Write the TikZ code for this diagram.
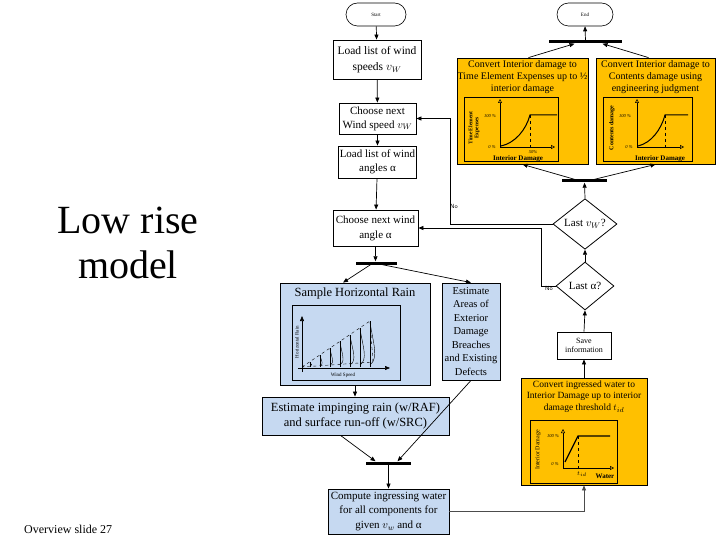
\documentclass[tikz,border=0pt]{standalone}
\usepackage{fontspec}
\setmainfont{Liberation Serif}
\usetikzlibrary{shapes.geometric,shapes.misc,arrows.meta,calc}
\definecolor{blueF}{RGB}{198,217,241}
\definecolor{orangeF}{RGB}{255,192,0}
\tikzset{
  box/.style={draw, line width=0.8pt, align=center, inner sep=1pt},
  wbox/.style={box, fill=white},
  bbox/.style={box, fill=blueF},
  obox/.style={box, fill=orangeF},
  bar/.style={fill=black, inner sep=0pt, minimum height=3pt},
  arr/.style={-{Triangle[length=5pt,width=4pt]}, line width=0.7pt},
  parr/.style={-{Triangle[open,length=4pt,width=4pt]}, line width=0.5pt},
  term/.style={draw, rounded rectangle, fill=white, inner sep=0pt, line width=0.6pt},
  dia/.style={draw, diamond, fill=white, inner sep=0pt, line width=0.8pt},
  tiny/.style={font=\fontsize{4.5}{5}\selectfont\itshape, inner sep=0pt},
  nolab/.style={font=\sffamily\fontsize{6}{7}\selectfont, inner sep=0pt},
}
\begin{document}
\begin{tikzpicture}[x=1pt,y=-1pt]
\useasboundingbox (0,0) rectangle (720,540);

% left texts
\node[align=center, font=\fontsize{40}{45}\selectfont] (title) at (128,243) {Low rise\\model};
\node[anchor=base west, inner sep=0pt, font=\fontsize{12}{14}\selectfont] (foot) at (24,533) {Overview slide 27};

% terminals
\node[term, minimum width=60, minimum height=23, font=\fontsize{5}{6}\selectfont] (start) at (376,14.5) {Start};
\node[term, minimum width=56, minimum height=23, font=\fontsize{5}{6}\selectfont] (end) at (585,14.5) {End};

% left column
\node[wbox, minimum width=88, minimum height=39, font=\fontsize{11.5}{16}\selectfont] (loadws) at (377,59.5) {Load list of wind\\speeds $v_W$};
\node[wbox, minimum width=77, minimum height=31, font=\fontsize{11}{14}\selectfont] (choosews) at (377.5,118.5) {Choose next\\Wind speed $v_W$};
\node[wbox, minimum width=77, minimum height=32, font=\fontsize{11}{14}\selectfont] (loadwa) at (377.5,162) {Load list of wind\\angles α};
\node[wbox, minimum width=85, minimum height=36, font=\fontsize{11}{15}\selectfont] (choosewa) at (375.5,228) {Choose next wind\\angle α};

\node[bar, minimum width=41] (bar1) at (376.5,263) {};

% sample horizontal rain
\node[bbox, minimum width=150, minimum height=102] (samp) at (355,334) {};
\node[anchor=north, inner sep=0pt, font=\fontsize{12.5}{14}\selectfont] (samptitle) at ([yshift=-5]samp.north) {Sample Horizontal Rain};
\draw[line width=0.4pt] (292,305) rectangle (400,380);
\draw[-{Triangle[length=5pt,width=4pt]}, line width=0.6pt] (302,372) -- (302,316);
\draw[-{Triangle[length=5pt,width=4pt]}, line width=0.6pt] (298,368) -- (390,368);
\draw[dashed, line width=0.4pt] (302,367) -- (370,321) -- (373,362) -- cycle;
\foreach \xx/\yy/\ww in {310/361.6/2, 320/354.8/2.5, 330/348/3, 340/341.3/3.5, 350/334.5/4.5, 360/327.8/5, 370/321/5.5}{
  \draw[line width=0.4pt] (\xx,367) -- (\xx,\yy);
  \draw[line width=0.4pt] (\xx,{\yy+1}) .. controls ({\xx+0.6*\ww},{\yy+0.5*(367-\yy)}) and ({\xx+1.6*\ww},{\yy+0.8*(367-\yy)}) .. (\xx,365);
}
\node[rotate=90, font=\fontsize{5}{6}\selectfont, inner sep=0pt] (hrlab) at (297,342) {Horizontal Rain};
\node[font=\fontsize{5}{6}\selectfont, inner sep=0pt] (wslab) at (343,375) {Wind Speed};

% estimate areas
\node[bbox, minimum width=58, minimum height=97, font=\fontsize{10.5}{13.5}\selectfont] (areas) at (471,331.5) {Estimate\\Areas of\\Exterior\\Damage\\Breaches\\and Existing\\Defects};

\node[bbox, minimum width=187, minimum height=38, font=\fontsize{12.5}{15.5}\selectfont] (imping) at (355.5,416) {Estimate impinging rain (w/RAF)\\and surface run-off (w/SRC)};

\node[bar, minimum width=45] (bar2) at (388.5,463) {};

\node[bbox, minimum width=121, minimum height=45, font=\fontsize{11}{14.5}\selectfont] (compute) at (388.5,511.5) {Compute ingressing water\\for all components for\\given $v_w$ and α};

% right column
\node[obox, minimum width=126, minimum height=107] (convwater) at (584,431.5) {};
\node[anchor=north, align=center, inner sep=0pt, font=\fontsize{9.5}{11.5}\selectfont] (cwtitle) at ([yshift=-3]convwater.north) {Convert ingressed water to\\Interior Damage up to interior\\damage threshold $t_{id}$};
\draw[line width=0.4pt] (530,420) rectangle (617,483);
\draw[parr] (563,468) -- (563,429);
\draw[parr] (563,468) -- (614,468);
\draw[line width=1.2pt] (565,462) -- (578,436) -- (610,436);
\draw[dashed, line width=0.4pt] (578,436) -- (578,468);
\node[tiny] (cw100) at (553,436) {100 \%};
\node[tiny] (cw0) at (555,464) {0 \%};
\node[inner sep=0pt, font=\fontsize{6}{7}\selectfont] (cwt) at (582,474) {$t_{id}$};
\node[inner sep=0pt, font=\fontsize{7}{8}\selectfont\bfseries] (cwwater) at (605,476) {Water};
\node[rotate=90, inner sep=0pt, font=\fontsize{6}{7}\selectfont] (cwid) at (538,450) {Interior Damage};

\node[wbox, minimum width=54, minimum height=27, font=\fontsize{8}{9.5}\selectfont] (save) at (584,345.5) {Save\\information};

\node[dia, minimum width=58, minimum height=48, font=\fontsize{11}{13}\selectfont] (lasta) at (585,286) {Last α?};
\node[dia, minimum width=64, minimum height=46, font=\fontsize{11}{13}\selectfont] (lastv) at (585,224) {Last $v_W$?};

\node[bar, minimum width=45] (barmid) at (584.5,181) {};

% top orange boxes
\node[obox, minimum width=131, minimum height=106] (conv1) at (522.5,111) {};
\node[anchor=north, align=center, inner sep=0pt, font=\fontsize{10}{12}\selectfont] (c1title) at ([yshift=-3]conv1.north) {Convert Interior damage to\\Time Element Expenses up to ½\\interior damage};
\draw[line width=0.4pt] (464,97) rectangle (558,161);
\draw[parr] (500,147) -- (500,99);
\draw[parr] (500,147) -- (555,147);
\draw[line width=1pt] (501,146) .. controls (515,143) and (526,130) .. (530,115) -- (557,115);
\draw[dashed, line width=0.4pt] (530,115) -- (530,147);
\node[tiny] (c1100) at (490,116) {100 \%};
\node[tiny] (c10) at (492,147) {0 \%};
\node[tiny] (c150) at (533,152) {50\%};
\node[inner sep=0pt, font=\fontsize{7}{8}\selectfont\bfseries] (c1lab) at (518,158.5) {Interior Damage};
\node[rotate=90, align=center, inner sep=0pt, font=\fontsize{5.5}{6}\selectfont\bfseries] (c1y) at (474,128) {Time Element\\Expenses};

\node[obox, minimum width=119, minimum height=106] (conv2) at (655.5,111) {};
\node[anchor=north, align=center, inner sep=0pt, font=\fontsize{10}{12}\selectfont] (c2title) at ([yshift=-3]conv2.north) {Convert Interior damage to\\Contents damage using\\engineering judgment};
\draw[line width=0.4pt] (603,97) rectangle (692,161);
\draw[parr] (637,147) -- (637,99);
\draw[parr] (637,147) -- (684,147);
\draw[line width=1pt] (638,146) .. controls (651,143) and (661,130) .. (665,115) -- (688,115);
\draw[dashed, line width=0.4pt] (665,115) -- (665,147);
\node[tiny] (c2100) at (625,116) {100 \%};
\node[tiny] (c20) at (629,147) {0 \%};
\node[inner sep=0pt, font=\fontsize{7}{8}\selectfont\bfseries] (c2lab) at (660,158.5) {Interior Damage};
\node[rotate=90, inner sep=0pt, font=\fontsize{6}{7}\selectfont\bfseries] (c2y) at (612,128) {Contents damage};

\node[bar, minimum width=73] (bartop) at (585.5,42) {};

% connectors
\draw[arr] (start) -- (loadws);
\draw[arr] (loadws) -- (choosews);
\draw[arr] (choosews) -- (loadwa);
\draw[arr] (loadwa) -- (choosewa);
\draw[arr] (choosewa.south) -- (bar1.north -| choosewa.south);
\draw[arr] ([xshift=-6]bar1.south) -- ([xshift=-12]samp.north);
\draw[arr] ([xshift=6]bar1.south) -- (areas.north);
\draw[arr] (samp.south) -- (samp.south |- imping.north);
\draw[arr] ([xshift=-15]imping.south) -- ([xshift=-13]bar2.north);
\draw[arr] (areas.south) -- ([xshift=9]bar2.north);
\draw[arr] (bar2.south) -- (compute.north);
\draw[arr, draw=black!70] (compute.east) -| (convwater.south);
\draw[arr] (convwater.north) -- (save.south);
\draw[arr] (save.north) -- (lasta.south);
\draw[arr] (lasta.north) -- (lastv.south);
\draw[arr] (lastv.north) -- (barmid.south);
\draw[arr] ([xshift=-10]barmid.north) -- (conv1.south);
\draw[arr] ([xshift=10]barmid.north) -- (conv2.south);
\draw[arr] ([xshift=6]conv1.north) -- ([xshift=-11]bartop.south);
\draw[arr] ([xshift=-7]conv2.north) -- ([xshift=17]bartop.south);
\draw[arr] (bartop.north) -- (end.south);
\coordinate (nov) at (450,224);
\draw[arr] (lastv.west) -- (nov) |- (choosews.east);
\coordinate (noa) at (541,286);
\draw[arr] (lasta.west) -- (noa) |- (choosewa.east);
\node[nolab] (no1) at (454,206) {No};
\node[nolab] (no2) at (549,288) {No};
\end{tikzpicture}
\end{document}
